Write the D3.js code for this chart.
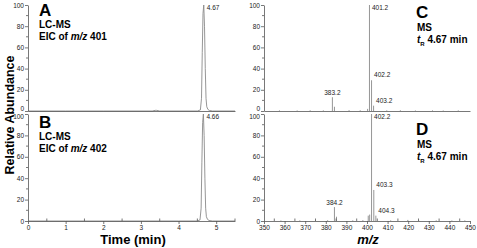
<!DOCTYPE html>
<html><head><meta charset="utf-8">
<script src="https://cdn.jsdelivr.net/npm/d3@7"></script>
<style>
html,body{margin:0;padding:0;background:#fff;}
svg{display:block;font-family:"Liberation Sans",Arial,Helvetica,sans-serif;}
</style></head>
<body>
<svg id="c" width="477" height="248"></svg>
<script>
// ---- data ----
const eicA_time = [0, 1.0, 2.0, 3.3, 3.38, 3.42, 3.5, 4.5, 4.58, 4.61, 4.63, 4.65, 4.67, 4.69, 4.71, 4.73, 4.75, 4.78, 4.82, 4.9, 5.5];
const eicA_int  = [0, 0, 0, 0, 0.6, 0.6, 0, 0, 1, 12, 55, 92, 100, 80, 40, 12, 4, 1.5, 0.5, 0, 0];
const eicB_time = [0, 1.0, 2.0, 3.0, 4.0, 4.5, 4.57, 4.6, 4.62, 4.64, 4.66, 4.68, 4.70, 4.72, 4.74, 4.77, 4.81, 4.9, 5.5];
const eicB_int  = [0, 0, 0, 0, 0, 0, 1, 12, 55, 92, 100, 80, 40, 12, 4, 1.5, 0.5, 0, 0];
const peakA = {t: 4.67, label: "4.67"};
const peakB = {t: 4.66, label: "4.66"};

const msC_mz  = [383.2, 384.2, 400.3, 401.2, 402.2, 403.2, 357.5, 366.1, 372.4, 378.8, 391.3, 396.7, 409.6, 416.2, 423.5, 431.8, 437.0, 444.3];
const msC_int = [13, 4, 2, 100, 29, 5, 0.6, 0.5, 0.7, 0.6, 0.8, 0.7, 0.6, 0.7, 0.5, 0.6, 0.5, 0.6];
const msC_labels = [{mz: 383.2, v: 13, t: "383.2"}, {mz: 401.2, v: 100, t: "401.2"}, {mz: 402.2, v: 29, t: "402.2"}, {mz: 403.2, v: 5, t: "403.2"}];

const msD_mz  = [384.2, 385.2, 400.6, 401.3, 402.2, 403.3, 404.3, 358.2, 367.4, 375.0, 380.9, 393.1, 398.0, 411.5, 419.8, 425.1, 433.6, 441.2, 447.5];
const msD_int = [13, 4, 5, 6, 100, 29, 5, 0.5, 0.6, 0.5, 0.7, 0.6, 0.8, 0.6, 1.0, 0.5, 0.6, 0.5, 0.6];
const msD_labels = [{mz: 384.2, v: 13, t: "384.2"}, {mz: 402.2, v: 100, t: "402.2"}, {mz: 403.3, v: 29, t: "403.3"}, {mz: 404.3, v: 5, t: "404.3"}];

const timeTicks = [0, 1, 2, 3, 4, 5];
const timeMinor = [0.5, 1.5, 2.5, 3.5, 4.5, 5.5];
const mzTicks = [350, 360, 370, 380, 390, 400, 410, 420, 430, 440, 450];
const mzMinor = [355, 365, 375, 385, 395, 405, 415, 425, 435, 445];
const yTicks = [0, 20, 40, 60, 80, 100];
const yMinor = [10, 30, 50, 70, 90];

// ---- layout ----
const svg = d3.select("#c");
const AX = "#555", LINE = "#8a8a8a";
const xT = d3.scaleLinear().domain([0, 5.5]).range([28, 235]);
const xM = d3.scaleLinear().domain([350, 450]).range([264, 470]);
const yTop = d3.scaleLinear().domain([0, 100]).range([111, 5]);
const yBot = d3.scaleLinear().domain([0, 100]).range([221, 114]);

function yAxis(x0, y, top) {
  const g = svg.append("g").attr("transform", `translate(${x0},0)`);
  g.call(d3.axisLeft(y).tickValues(yTicks).tickSize(3).tickSizeOuter(0).tickPadding(1).tickFormat(d3.format("d")));
  g.select(".domain").attr("stroke", AX).attr("stroke-width", 0.8);
  g.selectAll(".tick line").attr("stroke", AX).attr("stroke-width", 0.8);
  g.selectAll(".tick text").attr("font-size", 6.5).attr("fill", "#222").attr("font-family", "Liberation Sans, Arial");
  // keep the stacked "0" / "100" labels apart at the panel joint
  g.selectAll(".tick text").filter(d => top && d === 0).attr("dy", "-0.1em");
  g.selectAll(".tick text").filter(d => !top && d === 100).attr("dy", "0.75em");
  g.selectAll(".minor").data(yMinor).enter().append("line")
    .attr("x1", -2).attr("x2", 0).attr("y1", d => y(d)).attr("y2", d => y(d))
    .attr("stroke", AX).attr("stroke-width", 0.8);
}
function xAxis(x, y0, ticks, minor, labels) {
  const g = svg.append("g").attr("transform", `translate(0,${y0})`);
  if (labels) {
    g.call(d3.axisBottom(x).tickValues(ticks).tickSize(3).tickSizeOuter(0).tickPadding(1).tickFormat(d3.format("d")));
    g.selectAll(".tick text").attr("font-size", 6.5).attr("fill", "#222").attr("font-family", "Liberation Sans, Arial");
    g.selectAll(".tick line").attr("stroke", AX).attr("stroke-width", 0.8);
    g.selectAll(".minor").data(minor).enter().append("line")
      .attr("x1", d => x(d)).attr("x2", d => x(d)).attr("y1", 0).attr("y2", -2.5)
      .attr("stroke", AX).attr("stroke-width", 0.8);
  } else {
    g.call(d3.axisBottom(x).tickValues([]).tickSizeOuter(0));
  }
  g.select(".domain").attr("stroke", AX).attr("stroke-width", 0.8);
}

// chromatograms
function chrom(ts, vs, y, peak) {
  const pts = ts.map((t, i) => [t, vs[i]]);
  svg.append("path").datum(pts)
    .attr("d", d3.line().x(d => xT(d[0])).y(d => y(d[1])))
    .attr("fill", "none").attr("stroke", LINE).attr("stroke-width", 0.9);
  svg.append("text").attr("x", xT(peak.t) + 3).attr("y", y(100) + 5)
    .attr("font-size", 6.5).attr("fill", "#222").text(peak.label);
}
chrom(eicA_time, eicA_int, yTop, peakA);
chrom(eicB_time, eicB_int, yBot, peakB);

// spectra
function spec(mz, ints, y, labels) {
  svg.append("g").selectAll("line").data(mz.map((m, i) => [m, ints[i]])).enter().append("line")
    .attr("x1", d => xM(d[0])).attr("x2", d => xM(d[0]))
    .attr("y1", y(0)).attr("y2", d => y(d[1]))
    .attr("stroke", LINE).attr("stroke-width", 0.9);
  labels.forEach(l => {
    const t = svg.append("text").attr("font-size", 6.5).attr("fill", "#222").text(l.t);
    if (l.v < 10 || l.v >= 20) {
      t.attr("x", xM(l.mz) + 2.5).attr("y", l.v >= 90 ? y(100) + 5 : y(l.v) - 3);
    } else {
      t.attr("x", xM(l.mz)).attr("y", y(l.v) - 2).attr("text-anchor", "middle");
    }
  });
}
spec(msC_mz, msC_int, yTop, msC_labels);
spec(msD_mz, msD_int, yBot, msD_labels);

yAxis(28, yTop, true); yAxis(28, yBot, false);
yAxis(264, yTop, true); yAxis(264, yBot, false);
xAxis(xT, 111, null, null, false);
xAxis(xT, 221, timeTicks, timeMinor, true);
xAxis(xM, 111, null, null, false);
xAxis(xM, 221, mzTicks, mzMinor, true);

// panel annotations
function letter(x, y, s) {
  svg.append("text").attr("x", x).attr("y", y).attr("font-size", 17).attr("font-weight", "bold").text(s);
}
function txt(x, y) {
  return svg.append("text").attr("x", x).attr("y", y).attr("font-size", 10).attr("font-weight", "bold");
}
letter(39, 16, "A");
txt(39, 28).text("LC-MS");
let e = txt(39, 40); e.append("tspan").text("EIC of "); e.append("tspan").attr("font-style", "italic").text("m/z"); e.append("tspan").text(" 401");
letter(39, 128, "B");
txt(39, 140).text("LC-MS");
e = txt(39, 152); e.append("tspan").text("EIC of "); e.append("tspan").attr("font-style", "italic").text("m/z"); e.append("tspan").text(" 402");

letter(416, 18, "C");
txt(417, 31).text("MS");
function tr(y) {
  const t = txt(417, y);
  t.append("tspan").attr("font-style", "italic").text("t");
  t.append("tspan").attr("font-size", 6).attr("dy", 2.5).text("R");
  t.append("tspan").attr("dy", -2.5).text(" 4.67 min");
}
tr(43);
letter(416, 135, "D");
txt(417, 148).text("MS");
tr(160);

// axis titles
svg.append("text").attr("transform", "translate(14,115) rotate(-90)").attr("text-anchor", "middle")
  .attr("font-size", 12.5).attr("font-weight", "bold").text("Relative Abundance");
svg.append("text").attr("x", 133).attr("y", 244).attr("text-anchor", "middle")
  .attr("font-size", 13).attr("font-weight", "bold").text("Time (min)");
svg.append("text").attr("x", 368).attr("y", 244).attr("text-anchor", "middle")
  .attr("font-size", 13).attr("font-weight", "bold").attr("font-style", "italic").text("m/z");
</script>
</body></html>
